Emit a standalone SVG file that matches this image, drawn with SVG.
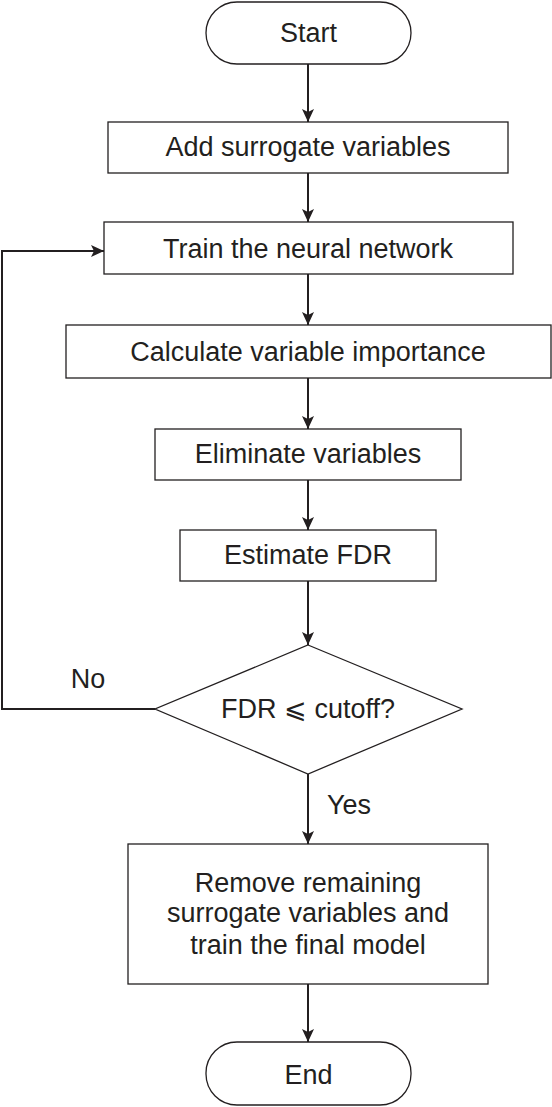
<svg xmlns="http://www.w3.org/2000/svg" width="552" height="1107" viewBox="0 0 552 1107">
<style>
.n{fill:#fff;stroke:#231f20;stroke-width:1.3}
.t{font-family:"Liberation Sans",Arial,sans-serif;font-size:27px;fill:#231f20;text-anchor:middle}
.c{fill:none;stroke:#231f20;stroke-width:2}
</style>
<defs>
<marker id="ah" markerUnits="userSpaceOnUse" markerWidth="14" markerHeight="12" refX="13" refY="6" orient="auto">
<path d="M0,0 L13,6 L0,12 L3,6 Z" fill="#231f20"/>
</marker>
</defs>
<rect width="552" height="1107" fill="#fff"/>
<g id="connectors">
<line class="c" x1="308" y1="64" x2="308" y2="122" marker-end="url(#ah)"/>
<line class="c" x1="308" y1="173" x2="308" y2="222" marker-end="url(#ah)"/>
<line class="c" x1="308" y1="274" x2="308" y2="325" marker-end="url(#ah)"/>
<line class="c" x1="308" y1="378" x2="308" y2="429" marker-end="url(#ah)"/>
<line class="c" x1="308" y1="480" x2="308" y2="530" marker-end="url(#ah)"/>
<line class="c" x1="308" y1="581" x2="308" y2="645" marker-end="url(#ah)"/>
<line class="c" x1="308" y1="774" x2="308" y2="844" marker-end="url(#ah)"/>
<line class="c" x1="308" y1="984" x2="308" y2="1042" marker-end="url(#ah)"/>
<polyline class="c" points="155,709 2,709 2,251 104,251" marker-end="url(#ah)"/>
<text class="t" x="88" y="688">No</text>
<text class="t" x="349" y="814">Yes</text>
</g>
<g id="start">
<rect class="n" x="206" y="2" width="205" height="62" rx="31" ry="31"/>
<text class="t" x="308.5" y="42">Start</text>
</g>
<g id="add">
<rect class="n" x="108" y="122" width="400" height="51"/>
<text class="t" x="308" y="156">Add surrogate variables</text>
</g>
<g id="train">
<rect class="n" x="104" y="222" width="409" height="52"/>
<text class="t" x="308" y="258">Train the neural network</text>
</g>
<g id="calc">
<rect class="n" x="66" y="325" width="485" height="53"/>
<text class="t" x="308" y="361">Calculate variable importance</text>
</g>
<g id="elim">
<rect class="n" x="155" y="429" width="306" height="51"/>
<text class="t" x="308" y="463">Eliminate variables</text>
</g>
<g id="est">
<rect class="n" x="180" y="530" width="256" height="51"/>
<text class="t" x="308" y="564">Estimate FDR</text>
</g>
<g id="decision">
<polygon class="n" points="308,645 462,709 308,774 155,709"/>
<text class="t" x="308" y="718">FDR ⩽ cutoff?</text>
</g>
<g id="remove">
<rect class="n" x="128" y="844" width="360" height="140"/>
<text class="t" x="308" y="892">Remove remaining</text>
<text class="t" x="308" y="922">surrogate variables and</text>
<text class="t" x="308" y="954">train the final model</text>
</g>
<g id="end">
<rect class="n" x="206" y="1042" width="205" height="63" rx="31" ry="31"/>
<text class="t" x="308.5" y="1084">End</text>
</g>
</svg>
